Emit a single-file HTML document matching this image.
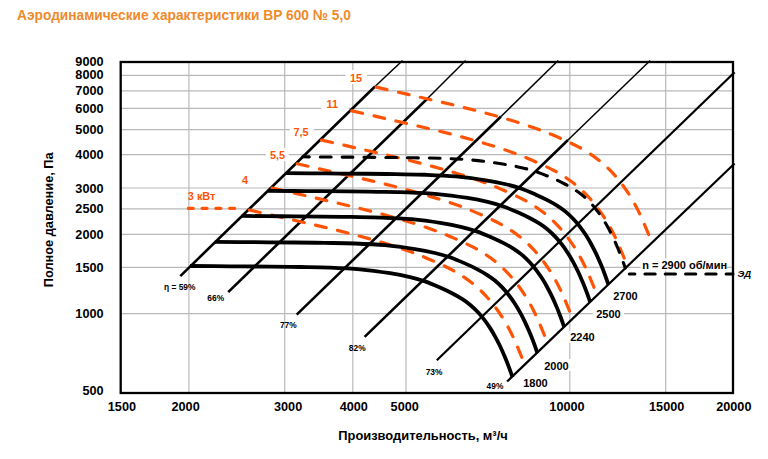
<!DOCTYPE html>
<html><head><meta charset="utf-8"><style>
html,body{margin:0;padding:0;background:#fff;}
body{width:768px;height:459px;position:relative;overflow:hidden;font-family:"Liberation Sans",sans-serif;}
.title{position:absolute;left:17px;top:7.6px;font-size:13.7px;line-height:16px;font-weight:bold;color:#ef8a2c;white-space:nowrap;transform-origin:0 12px;transform:scaleY(1.1);}
</style></head><body>
<div class="title">Аэродинамические характеристики ВР 600 № 5,0</div>
<svg width="768" height="459" viewBox="0 0 768 459" style="position:absolute;left:0;top:0">
<line x1="120.7" y1="75.3" x2="733.0" y2="75.3" stroke="#b9b9b9" stroke-width="1.2"/>
<line x1="120.7" y1="90.8" x2="733.0" y2="90.8" stroke="#b9b9b9" stroke-width="1.2"/>
<line x1="120.7" y1="108.4" x2="733.0" y2="108.4" stroke="#b9b9b9" stroke-width="1.2"/>
<line x1="120.7" y1="129.6" x2="733.0" y2="129.6" stroke="#b9b9b9" stroke-width="1.2"/>
<line x1="120.7" y1="154.7" x2="733.0" y2="154.7" stroke="#b9b9b9" stroke-width="1.2"/>
<line x1="120.7" y1="188.0" x2="733.0" y2="188.0" stroke="#b9b9b9" stroke-width="1.2"/>
<line x1="120.7" y1="208.9" x2="733.0" y2="208.9" stroke="#b9b9b9" stroke-width="1.2"/>
<line x1="120.7" y1="234.4" x2="733.0" y2="234.4" stroke="#b9b9b9" stroke-width="1.2"/>
<line x1="120.7" y1="267.3" x2="733.0" y2="267.3" stroke="#b9b9b9" stroke-width="1.2"/>
<line x1="120.7" y1="313.6" x2="733.0" y2="313.6" stroke="#b9b9b9" stroke-width="1.2"/>
<line x1="188.9" y1="62.0" x2="188.9" y2="393.0" stroke="#b9b9b9" stroke-width="1.2"/>
<line x1="284.7" y1="62.0" x2="284.7" y2="393.0" stroke="#b9b9b9" stroke-width="1.2"/>
<line x1="352.8" y1="62.0" x2="352.8" y2="393.0" stroke="#b9b9b9" stroke-width="1.2"/>
<line x1="406.0" y1="62.0" x2="406.0" y2="393.0" stroke="#b9b9b9" stroke-width="1.2"/>
<line x1="569.8" y1="62.0" x2="569.8" y2="393.0" stroke="#b9b9b9" stroke-width="1.2"/>
<line x1="665.7" y1="62.0" x2="665.7" y2="393.0" stroke="#b9b9b9" stroke-width="1.2"/>
<rect x="345.4" y="70.0" width="21.8" height="14.0" fill="#fff"/>
<rect x="321.4" y="98.0" width="27.3" height="12.0" fill="#fff"/>
<rect x="289.9" y="125.0" width="23.9" height="13.0" fill="#fff"/>
<rect x="265.9" y="148.0" width="22.9" height="13.0" fill="#fff"/>
<rect x="592.7" y="309.0" width="31.4" height="11.0" fill="#fff"/>
<rect x="566.0" y="331.0" width="32.0" height="12.0" fill="#fff"/>
<rect x="540.0" y="359.0" width="32.0" height="12.0" fill="#fff"/>
<rect x="640.7" y="258.5" width="86.3" height="12.1" fill="#fff"/>
<line x1="180.3" y1="276.1" x2="375.0" y2="86.5" stroke="#000" stroke-width="2.6"/>
<line x1="375.0" y1="86.5" x2="402.6" y2="60.5" stroke="#000" stroke-width="1.5"/>
<line x1="228.2" y1="292.1" x2="427.5" y2="98.5" stroke="#000" stroke-width="2.6"/>
<line x1="427.5" y1="98.5" x2="465.6" y2="60.5" stroke="#000" stroke-width="1.5"/>
<line x1="296.7" y1="314.6" x2="501.0" y2="116.5" stroke="#000" stroke-width="2.6"/>
<line x1="501.0" y1="116.5" x2="558.2" y2="60.5" stroke="#000" stroke-width="1.5"/>
<line x1="364.6" y1="336.9" x2="568.0" y2="140.0" stroke="#000" stroke-width="2.6"/>
<line x1="568.0" y1="140.0" x2="650.2" y2="60.5" stroke="#000" stroke-width="1.5"/>
<line x1="436.8" y1="360.2" x2="734.6" y2="72.3" stroke="#000" stroke-width="2.2"/>
<line x1="507.1" y1="381.5" x2="734.6" y2="163.5" stroke="#000" stroke-width="2.2"/>
<path d="M188.3,208.3 L243,208.3" fill="none" stroke="#ff5405" stroke-width="3.3" stroke-linecap="round" stroke-dasharray="4.9 8.9"/>
<path d="M248.50,209.80 C252.08,210.62 263.08,213.12 270.00,214.70 C276.92,216.28 283.33,217.77 290.00,219.30 C296.67,220.83 303.33,222.35 310.00,223.90 C316.67,225.45 323.33,226.98 330.00,228.60 C336.67,230.22 343.33,231.87 350.00,233.60 C356.67,235.33 363.33,237.12 370.00,239.00 C376.67,240.88 383.33,242.80 390.00,244.90 C396.67,247.00 404.17,249.52 410.00,251.60 C415.83,253.68 420.00,255.33 425.00,257.40 C430.00,259.47 435.50,261.92 440.00,264.00 C444.50,266.08 448.33,267.93 452.00,269.90 C455.67,271.87 458.67,273.62 462.00,275.80 C465.33,277.98 469.00,280.65 472.00,283.00 C475.00,285.35 477.33,287.37 480.00,289.90 C482.67,292.43 485.50,295.38 488.00,298.20 C490.50,301.02 492.67,303.70 495.00,306.80 C497.33,309.90 499.83,313.43 502.00,316.80 C504.17,320.17 506.17,323.67 508.00,327.00 C509.83,330.33 511.50,333.67 513.00,336.80 C514.50,339.93 515.53,342.38 517.00,345.80 C518.47,349.22 521.00,355.38 521.80,357.30" fill="none" stroke="#ff5405" stroke-width="3.2" stroke-linecap="round" stroke-dasharray="10.80 11.72" stroke-dashoffset="-1.2"/>
<path d="M271.17,187.84 C274.75,188.66 285.75,191.16 292.67,192.74 C299.58,194.33 306.00,195.81 312.67,197.34 C319.33,198.88 326.00,200.39 332.67,201.94 C339.33,203.49 346.00,205.03 352.67,206.64 C359.33,208.26 366.00,209.91 372.67,211.64 C379.33,213.38 386.00,215.16 392.67,217.04 C399.33,218.93 406.00,220.84 412.67,222.94 C419.33,225.04 426.83,227.56 432.67,229.64 C438.50,231.73 442.67,233.38 447.67,235.44 C452.67,237.51 458.17,239.96 462.67,242.04 C467.17,244.13 471.00,245.98 474.67,247.94 C478.33,249.91 481.33,251.66 484.67,253.84 C488.00,256.03 491.67,258.69 494.67,261.04 C497.67,263.39 500.00,265.41 502.67,267.94 C505.33,270.48 508.17,273.43 510.67,276.24 C513.17,279.06 515.33,281.74 517.67,284.84 C520.00,287.94 522.50,291.48 524.67,294.84 C526.83,298.21 528.83,301.71 530.67,305.04 C532.50,308.38 534.17,311.71 535.67,314.84 C537.17,317.98 538.20,320.43 539.67,323.84 C541.13,327.26 543.67,333.43 544.47,335.34" fill="none" stroke="#ff5405" stroke-width="3.2" stroke-linecap="round" stroke-dasharray="10.80 11.72" stroke-dashoffset="-1.2"/>
<path d="M296.26,163.54 C299.84,164.36 310.84,166.86 317.76,168.44 C324.68,170.02 331.09,171.51 337.76,173.04 C344.43,174.57 351.09,176.09 357.76,177.64 C364.43,179.19 371.09,180.72 377.76,182.34 C384.43,183.96 391.09,185.61 397.76,187.34 C404.43,189.07 411.09,190.86 417.76,192.74 C424.43,194.62 431.09,196.54 437.76,198.64 C444.43,200.74 451.93,203.26 457.76,205.34 C463.59,207.42 467.76,209.07 472.76,211.14 C477.76,213.21 483.26,215.66 487.76,217.74 C492.26,219.82 496.09,221.67 499.76,223.64 C503.43,225.61 506.43,227.36 509.76,229.54 C513.09,231.72 516.76,234.39 519.76,236.74 C522.76,239.09 525.09,241.11 527.76,243.64 C530.43,246.17 533.26,249.12 535.76,251.94 C538.26,254.76 540.43,257.44 542.76,260.54 C545.09,263.64 547.59,267.17 549.76,270.54 C551.93,273.91 553.93,277.41 555.76,280.74 C557.59,284.07 559.26,287.41 560.76,290.54 C562.26,293.67 563.29,296.12 564.76,299.54 C566.23,302.96 568.76,309.12 569.56,311.04" fill="none" stroke="#ff5405" stroke-width="3.2" stroke-linecap="round" stroke-dasharray="10.80 11.72" stroke-dashoffset="-1.2"/>
<path d="M320.70,139.87 C324.28,140.69 335.28,143.19 342.20,144.77 C349.12,146.35 355.53,147.84 362.20,149.37 C368.87,150.90 375.53,152.42 382.20,153.97 C388.87,155.52 395.53,157.05 402.20,158.67 C408.87,160.29 415.53,161.94 422.20,163.67 C428.87,165.40 435.53,167.19 442.20,169.07 C448.87,170.95 455.53,172.87 462.20,174.97 C468.87,177.07 476.37,179.59 482.20,181.67 C488.03,183.75 492.20,185.40 497.20,187.47 C502.20,189.54 507.70,191.99 512.20,194.07 C516.70,196.15 520.53,198.00 524.20,199.97 C527.87,201.94 530.87,203.69 534.20,205.87 C537.53,208.05 541.20,210.72 544.20,213.07 C547.20,215.42 549.53,217.44 552.20,219.97 C554.87,222.50 557.70,225.45 560.20,228.27 C562.70,231.09 564.87,233.77 567.20,236.87 C569.53,239.97 572.03,243.50 574.20,246.87 C576.37,250.24 578.37,253.74 580.20,257.07 C582.03,260.40 583.70,263.74 585.20,266.87 C586.70,270.00 587.73,272.45 589.20,275.87 C590.67,279.29 593.20,285.45 594.00,287.37" fill="none" stroke="#ff5405" stroke-width="3.2" stroke-linecap="round" stroke-dasharray="10.80 11.72" stroke-dashoffset="-1.2"/>
<path d="M350.88,110.64 C354.46,111.46 365.46,113.96 372.38,115.54 C379.29,117.12 385.71,118.61 392.38,120.14 C399.04,121.67 405.71,123.19 412.38,124.74 C419.04,126.29 425.71,127.82 432.38,129.44 C439.04,131.06 445.71,132.71 452.38,134.44 C459.04,136.17 465.71,137.96 472.38,139.84 C479.04,141.72 485.71,143.64 492.38,145.74 C499.04,147.84 506.54,150.36 512.38,152.44 C518.21,154.52 522.38,156.17 527.38,158.24 C532.38,160.31 537.88,162.76 542.38,164.84 C546.88,166.92 550.71,168.77 554.38,170.74 C558.04,172.71 561.04,174.46 564.38,176.64 C567.71,178.82 571.38,181.49 574.38,183.84 C577.38,186.19 579.71,188.21 582.38,190.74 C585.04,193.27 587.88,196.22 590.38,199.04 C592.88,201.86 595.04,204.54 597.38,207.64 C599.71,210.74 602.21,214.27 604.38,217.64 C606.54,221.01 608.54,224.51 610.38,227.84 C612.21,231.17 613.88,234.51 615.38,237.64 C616.88,240.77 617.91,243.22 619.38,246.64 C620.84,250.06 623.38,256.22 624.18,258.14" fill="none" stroke="#ff5405" stroke-width="3.2" stroke-linecap="round" stroke-dasharray="10.80 11.72" stroke-dashoffset="-1.2"/>
<path d="M375.32,86.97 C378.90,87.78 389.90,90.28 396.82,91.87 C403.73,93.45 410.15,94.93 416.82,96.47 C423.48,98.00 430.15,99.52 436.82,101.07 C443.48,102.62 450.15,104.15 456.82,105.77 C463.48,107.38 470.15,109.03 476.82,110.77 C483.48,112.50 490.15,114.28 496.82,116.17 C503.48,118.05 510.15,119.97 516.82,122.07 C523.48,124.17 530.98,126.68 536.82,128.77 C542.65,130.85 546.82,132.50 551.82,134.57 C556.82,136.63 562.32,139.08 566.82,141.17 C571.32,143.25 575.15,145.10 578.82,147.07 C582.48,149.03 585.48,150.78 588.82,152.97 C592.15,155.15 595.82,157.82 598.82,160.17 C601.82,162.52 604.15,164.53 606.82,167.07 C609.48,169.60 612.32,172.55 614.82,175.37 C617.32,178.18 619.48,180.87 621.82,183.97 C624.15,187.07 626.65,190.60 628.82,193.97 C630.98,197.33 632.98,200.83 634.82,204.17 C636.65,207.50 638.32,210.83 639.82,213.97 C641.32,217.10 642.35,219.55 643.82,222.97 C645.28,226.38 647.82,232.55 648.62,234.47" fill="none" stroke="#ff5405" stroke-width="3.2" stroke-linecap="round" stroke-dasharray="10.80 11.72" stroke-dashoffset="-1.2"/>
<path d="M190.00,266.00 C196.67,266.05 216.67,266.20 230.00,266.30 C243.33,266.40 258.33,266.48 270.00,266.60 C281.67,266.72 290.00,266.83 300.00,267.00 C310.00,267.17 320.00,267.22 330.00,267.60 C340.00,267.98 350.00,268.37 360.00,269.30 C370.00,270.23 381.67,271.90 390.00,273.20 C398.33,274.50 404.17,275.73 410.00,277.10 C415.83,278.47 420.00,279.67 425.00,281.40 C430.00,283.13 435.50,285.53 440.00,287.50 C444.50,289.47 448.33,291.30 452.00,293.20 C455.67,295.10 459.00,296.98 462.00,298.90 C465.00,300.82 467.33,302.47 470.00,304.70 C472.67,306.93 475.67,309.85 478.00,312.30 C480.33,314.75 482.00,316.80 484.00,319.40 C486.00,322.00 488.17,325.08 490.00,327.90 C491.83,330.72 493.33,333.28 495.00,336.30 C496.67,339.32 498.33,342.52 500.00,346.00 C501.67,349.48 503.50,353.65 505.00,357.20 C506.50,360.75 507.75,363.97 509.00,367.30 C510.25,370.63 511.92,375.55 512.50,377.20" fill="none" stroke="#000" stroke-width="3.8"/>
<path d="M214.91,241.88 C221.57,241.93 241.57,242.08 254.91,242.18 C268.24,242.28 283.24,242.36 294.91,242.48 C306.57,242.59 314.91,242.71 324.91,242.88 C334.91,243.04 344.91,243.09 354.91,243.48 C364.91,243.86 374.91,244.24 384.91,245.18 C394.91,246.11 406.57,247.78 414.91,249.08 C423.24,250.38 429.07,251.61 434.91,252.98 C440.74,254.34 444.91,255.54 449.91,257.28 C454.91,259.01 460.41,261.41 464.91,263.38 C469.41,265.34 473.24,267.18 476.91,269.08 C480.57,270.98 483.91,272.86 486.91,274.78 C489.91,276.69 492.24,278.34 494.91,280.58 C497.57,282.81 500.57,285.73 502.91,288.18 C505.24,290.63 506.91,292.68 508.91,295.28 C510.91,297.88 513.07,300.96 514.91,303.78 C516.74,306.59 518.24,309.16 519.91,312.18 C521.57,315.19 523.24,318.39 524.91,321.88 C526.57,325.36 528.41,329.53 529.91,333.08 C531.41,336.63 532.66,339.84 533.91,343.18 C535.16,346.51 536.82,351.43 537.41,353.08" fill="none" stroke="#000" stroke-width="3.8"/>
<path d="M241.70,215.93 C248.36,215.98 268.36,216.13 281.70,216.23 C295.03,216.33 310.03,216.41 321.70,216.53 C333.36,216.65 341.70,216.76 351.70,216.93 C361.70,217.10 371.70,217.15 381.70,217.53 C391.70,217.91 401.70,218.30 411.70,219.23 C421.70,220.16 433.36,221.83 441.70,223.13 C450.03,224.43 455.86,225.66 461.70,227.03 C467.53,228.40 471.70,229.60 476.70,231.33 C481.70,233.06 487.20,235.46 491.70,237.43 C496.20,239.40 500.03,241.23 503.70,243.13 C507.36,245.03 510.70,246.91 513.70,248.83 C516.70,250.75 519.03,252.40 521.70,254.63 C524.36,256.86 527.36,259.78 529.70,262.23 C532.03,264.68 533.70,266.73 535.70,269.33 C537.70,271.93 539.86,275.01 541.70,277.83 C543.53,280.65 545.03,283.21 546.70,286.23 C548.36,289.25 550.03,292.45 551.70,295.93 C553.36,299.41 555.20,303.58 556.70,307.13 C558.20,310.68 559.45,313.90 560.70,317.23 C561.95,320.56 563.61,325.48 564.20,327.13" fill="none" stroke="#000" stroke-width="3.8"/>
<path d="M267.65,190.79 C274.32,190.84 294.32,190.99 307.65,191.09 C320.99,191.19 335.99,191.27 347.65,191.39 C359.32,191.50 367.65,191.62 377.65,191.79 C387.65,191.95 397.65,192.00 407.65,192.39 C417.65,192.77 427.65,193.15 437.65,194.09 C447.65,195.02 459.32,196.69 467.65,197.99 C475.99,199.29 481.82,200.52 487.65,201.89 C493.49,203.25 497.65,204.45 502.65,206.19 C507.65,207.92 513.15,210.32 517.65,212.29 C522.15,214.25 525.99,216.09 529.65,217.99 C533.32,219.89 536.65,221.77 539.65,223.69 C542.65,225.60 544.99,227.25 547.65,229.49 C550.32,231.72 553.32,234.64 555.65,237.09 C557.99,239.54 559.65,241.59 561.65,244.19 C563.65,246.79 565.82,249.87 567.65,252.69 C569.49,255.50 570.99,258.07 572.65,261.09 C574.32,264.10 575.99,267.30 577.65,270.79 C579.32,274.27 581.15,278.44 582.65,281.99 C584.15,285.54 585.40,288.75 586.65,292.09 C587.90,295.42 589.57,300.34 590.15,301.99" fill="none" stroke="#000" stroke-width="3.8"/>
<path d="M285.85,173.16 C292.51,173.21 312.51,173.36 325.85,173.46 C339.18,173.56 354.18,173.65 365.85,173.76 C377.51,173.88 385.85,174.00 395.85,174.16 C405.85,174.33 415.85,174.38 425.85,174.76 C435.85,175.15 445.85,175.53 455.85,176.46 C465.85,177.40 477.51,179.06 485.85,180.36 C494.18,181.66 500.01,182.90 505.85,184.26 C511.68,185.63 515.85,186.83 520.85,188.56 C525.85,190.30 531.35,192.70 535.85,194.66 C540.35,196.63 544.18,198.46 547.85,200.36 C551.51,202.26 554.85,204.15 557.85,206.06 C560.85,207.98 563.18,209.63 565.85,211.86 C568.51,214.10 571.51,217.01 573.85,219.46 C576.18,221.91 577.85,223.96 579.85,226.56 C581.85,229.16 584.01,232.25 585.85,235.06 C587.68,237.88 589.18,240.45 590.85,243.46 C592.51,246.48 594.18,249.68 595.85,253.16 C597.51,256.65 599.35,260.81 600.85,264.36 C602.35,267.91 603.60,271.13 604.85,274.46 C606.10,277.80 607.76,282.71 608.35,284.36" fill="none" stroke="#000" stroke-width="3.8"/>
<path d="M302.74,156.80 C309.41,156.85 329.41,157.00 342.74,157.10 C356.07,157.20 371.07,157.29 382.74,157.40 C394.41,157.52 402.74,157.64 412.74,157.80 C422.74,157.97 432.74,158.02 442.74,158.40 C452.74,158.79 462.74,159.17 472.74,160.10 C482.74,161.04 494.41,162.70 502.74,164.00 C511.07,165.30 516.91,166.54 522.74,167.90 C528.57,169.27 532.74,170.47 537.74,172.20 C542.74,173.94 548.24,176.34 552.74,178.30 C557.24,180.27 561.07,182.10 564.74,184.00 C568.41,185.90 571.74,187.79 574.74,189.70 C577.74,191.62 580.07,193.27 582.74,195.50 C585.41,197.74 588.41,200.65 590.74,203.10 C593.07,205.55 594.74,207.60 596.74,210.20 C598.74,212.80 600.91,215.89 602.74,218.70 C604.57,221.52 606.07,224.09 607.74,227.10 C609.41,230.12 611.07,233.32 612.74,236.80 C614.41,240.29 616.24,244.45 617.74,248.00 C619.24,251.55 620.49,254.77 621.74,258.10 C622.99,261.44 624.66,266.35 625.24,268.00" fill="none" stroke="#000" stroke-width="3.1" stroke-linecap="round" stroke-dasharray="10.8 11" stroke-dashoffset="4.2"/>
<path d="M629.3,274 L733,274" fill="none" stroke="#000" stroke-width="3" stroke-linecap="round" stroke-dasharray="10.3 10" stroke-dashoffset="4.7"/>
<rect x="120.7" y="62.0" width="612.3" height="331.0" fill="none" stroke="#000" stroke-width="2.3"/>
<g font-family="Liberation Sans, sans-serif">
<text x="103.6" y="65.7" font-size="12.70" text-anchor="end" fill="#000" font-weight="bold" >9000</text>
<text x="103.6" y="79.0" font-size="12.70" text-anchor="end" fill="#000" font-weight="bold" >8000</text>
<text x="103.6" y="95.3" font-size="12.70" text-anchor="end" fill="#000" font-weight="bold" >7000</text>
<text x="103.6" y="112.8" font-size="12.70" text-anchor="end" fill="#000" font-weight="bold" >6000</text>
<text x="103.6" y="134.0" font-size="12.70" text-anchor="end" fill="#000" font-weight="bold" >5000</text>
<text x="103.6" y="159.4" font-size="12.70" text-anchor="end" fill="#000" font-weight="bold" >4000</text>
<text x="103.6" y="192.5" font-size="12.70" text-anchor="end" fill="#000" font-weight="bold" >3000</text>
<text x="103.6" y="213.3" font-size="12.70" text-anchor="end" fill="#000" font-weight="bold" >2500</text>
<text x="103.6" y="238.9" font-size="12.70" text-anchor="end" fill="#000" font-weight="bold" >2000</text>
<text x="103.6" y="272.0" font-size="12.70" text-anchor="end" fill="#000" font-weight="bold" >1500</text>
<text x="103.6" y="318.1" font-size="12.70" text-anchor="end" fill="#000" font-weight="bold" >1000</text>
<text x="103.6" y="395.1" font-size="12.70" text-anchor="end" fill="#000" font-weight="bold" >500</text>
<text x="121.9" y="411.0" font-size="12.70" text-anchor="middle" fill="#000" font-weight="bold" >1500</text>
<text x="185.6" y="411.0" font-size="12.70" text-anchor="middle" fill="#000" font-weight="bold" >2000</text>
<text x="288.1" y="411.0" font-size="12.70" text-anchor="middle" fill="#000" font-weight="bold" >3000</text>
<text x="353.8" y="411.0" font-size="12.70" text-anchor="middle" fill="#000" font-weight="bold" >4000</text>
<text x="404.7" y="411.0" font-size="12.70" text-anchor="middle" fill="#000" font-weight="bold" >5000</text>
<text x="567.0" y="411.0" font-size="12.70" text-anchor="middle" fill="#000" font-weight="bold" >10000</text>
<text x="666.7" y="411.0" font-size="12.70" text-anchor="middle" fill="#000" font-weight="bold" >15000</text>
<text x="733.8" y="411.0" font-size="12.70" text-anchor="middle" fill="#000" font-weight="bold" >20000</text>
<text x="423.0" y="439.8" font-size="12.90" text-anchor="middle" fill="#000" font-weight="bold" >Производительность, м³/ч</text>
<text x="0" y="0" font-size="12.75" font-weight="bold" text-anchor="middle" transform="translate(52.7,219.8) rotate(-90)">Полное давление, Па</text>
<text x="356.0" y="82.2" font-size="10.90" text-anchor="middle" fill="#ff5405" font-weight="bold" >15</text>
<text x="332.2" y="108.0" font-size="10.90" text-anchor="middle" fill="#ff5405" font-weight="bold" >11</text>
<text x="301.0" y="135.8" font-size="10.90" text-anchor="middle" fill="#ff5405" font-weight="bold" >7,5</text>
<text x="277.5" y="159.3" font-size="10.90" text-anchor="middle" fill="#ff5405" font-weight="bold" >5,5</text>
<text x="245.0" y="183.7" font-size="10.90" text-anchor="middle" fill="#ff5405" font-weight="bold" >4</text>
<text x="201.6" y="200.4" font-size="10.90" text-anchor="middle" fill="#ff5405" font-weight="bold" >3 кВт</text>
<text x="179.7" y="290.3" font-size="8.40" text-anchor="middle" fill="#000" font-weight="bold" >η = 59%</text>
<text x="215.7" y="300.6" font-size="8.40" text-anchor="middle" fill="#000" font-weight="bold" >66%</text>
<text x="288.3" y="328.0" font-size="8.40" text-anchor="middle" fill="#000" font-weight="bold" >77%</text>
<text x="357.2" y="350.7" font-size="8.40" text-anchor="middle" fill="#000" font-weight="bold" >82%</text>
<text x="434.1" y="374.5" font-size="8.40" text-anchor="middle" fill="#000" font-weight="bold" >73%</text>
<text x="495.0" y="388.5" font-size="8.40" text-anchor="middle" fill="#000" font-weight="bold" >49%</text>
<text x="535.5" y="386.6" font-size="11.00" text-anchor="middle" fill="#000" font-weight="bold" >1800</text>
<text x="556.4" y="369.6" font-size="11.00" text-anchor="middle" fill="#000" font-weight="bold" >2000</text>
<text x="582.4" y="341.1" font-size="11.00" text-anchor="middle" fill="#000" font-weight="bold" >2240</text>
<text x="608.4" y="318.4" font-size="11.00" text-anchor="middle" fill="#000" font-weight="bold" >2500</text>
<text x="625.4" y="300.4" font-size="11.00" text-anchor="middle" fill="#000" font-weight="bold" >2700</text>
<text x="684.6" y="269.1" font-size="11.00" text-anchor="middle" fill="#000" font-weight="bold" >n = 2900 об/мин</text>
<text x="744.4" y="276.5" font-size="9.50" text-anchor="middle" fill="#000" font-weight="bold" font-style="italic">ЭД</text>
</g>
</svg>
</body></html>
